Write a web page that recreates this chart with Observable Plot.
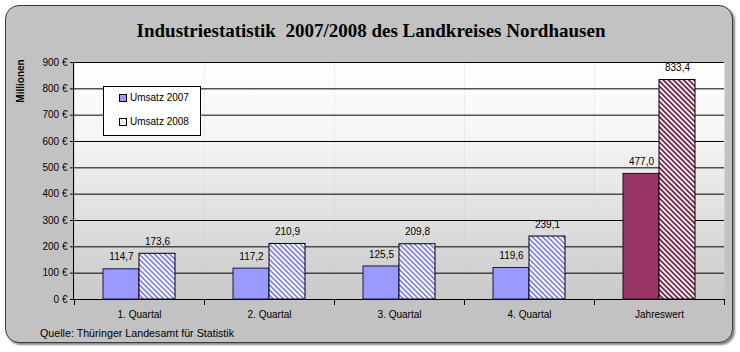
<!DOCTYPE html>
<html><head><meta charset="utf-8">
<script src="https://cdn.jsdelivr.net/npm/d3@7"></script>
<script src="https://cdn.jsdelivr.net/npm/@observablehq/plot@0.6"></script>
<style>
html,body{margin:0;padding:0;background:#fff;}
#wrap{position:relative;width:740px;height:352px;overflow:hidden;font-family:"Liberation Sans",Arial,sans-serif;}
#panel{position:absolute;left:5px;top:5px;width:726px;height:336px;border:1px solid #3a3a3a;border-radius:14px;background:#c2c2c2;box-shadow:2px 2px 2px #8a8a8a;}
#title{position:absolute;left:0;top:20px;width:742px;text-align:center;font-family:"Liberation Serif","Times New Roman",serif;font-weight:bold;font-size:19px;color:#000;}
#ylab{position:absolute;left:20px;top:81px;transform:translate(-50%,-50%) rotate(-90deg);font-weight:bold;font-size:10px;white-space:nowrap;}
#cap{position:absolute;left:40px;top:327px;font-size:10.7px;white-space:nowrap;}
#legend{position:absolute;left:103px;top:86px;width:96px;height:48px;background:#fff;border:1px solid #000;font-size:10px;}
.lrow{position:absolute;left:15px;display:flex;align-items:center;}
.lrow svg{margin-right:3px;}
#chart{position:absolute;left:0;top:0;}
</style></head>
<body>
<div id="wrap">
  <div id="panel"></div>
  <div id="title"></div>
  <div id="ylab"></div>
  <div id="chart"></div>
  <div id="legend"></div>
  <div id="cap"></div>
</div>
<script>
const titleText = "Industriestatistik\u00a0 2007/2008 des Landkreises Nordhausen";
const yLabel = "Millionen";
const caption = "Quelle: Thüringer Landesamt für Statistik";
const categories = ["1. Quartal", "2. Quartal", "3. Quartal", "4. Quartal", "Jahreswert"];
const series = ["2007", "2008"];
const seriesLabels = ["Umsatz 2007", "Umsatz 2008"];
const umsatz2007 = [114.7, 117.2, 125.5, 119.6, 477.0];
const umsatz2008 = [173.6, 210.9, 209.8, 239.1, 833.4];
const yTicks = [0, 100, 200, 300, 400, 500, 600, 700, 800, 900];

document.getElementById("title").textContent = titleText;
document.getElementById("ylab").textContent = yLabel;
document.getElementById("cap").textContent = caption;

const rows = [];
categories.forEach((c, i) => {
  rows.push({cat: c, s: "2007", v: umsatz2007[i]});
  rows.push({cat: c, s: "2008", v: umsatz2008[i]});
});
const isYear = d => d.cat === "Jahreswert";
const fmt = v => v.toFixed(1).replace(".", ",");

const plot = Plot.plot({
  width: 740, height: 352,
  marginLeft: 73, marginRight: 16, marginTop: 62, marginBottom: 53,
  style: {background: "transparent", fontFamily: "'Liberation Sans', Arial, sans-serif", fontSize: "10px", color: "#000"},
  fx: {domain: categories, padding: 0, label: null, axis: "bottom", tickSize: 0, tickPadding: 11},
  x: {domain: series, paddingInner: 0, paddingOuter: 0.76, axis: null},
  y: {domain: [0, 900], ticks: yTicks, tickFormat: d => d + " €", tickSize: 4, tickPadding: 3, label: null},
  marks: [
    Plot.frame({fill: "url(#bgGrad)", stroke: "none"}),
    Plot.gridY(yTicks, {stroke: "#000", strokeOpacity: 1}),
    Plot.frame({anchor: "left", stroke: "#000", insetTop: 237, insetBottom: -5}),
    Plot.frame({anchor: "right", stroke: "#000", insetTop: 237, insetBottom: -5}),
    Plot.barY(rows.filter(d => d.s === "2007" && !isYear(d)), {fx: "cat", x: "s", y: "v", fill: "#9999ff", stroke: "#1a1a40", strokeWidth: 1}),
    Plot.barY(rows.filter(d => d.s === "2008" && !isYear(d)), {fx: "cat", x: "s", y: "v", fill: "url(#hatchBlue)", stroke: "#000", strokeWidth: 1}),
    Plot.barY(rows.filter(d => d.s === "2007" && isYear(d)), {fx: "cat", x: "s", y: "v", fill: "#993366", stroke: "#2a0a18", strokeWidth: 1}),
    Plot.barY(rows.filter(d => d.s === "2008" && isYear(d)), {fx: "cat", x: "s", y: "v", fill: "url(#hatchRed)", stroke: "#000", strokeWidth: 1}),
    Plot.text(rows, {fx: "cat", x: "s", y: "v", text: d => fmt(d.v), dy: -12, fill: "#000", fontSize: 10})
  ]
});

const svg = d3.select(plot);
const defs = svg.insert("defs", ":first-child");
const g = defs.append("linearGradient").attr("id", "bgGrad").attr("x1", 0).attr("y1", 0).attr("x2", 0).attr("y2", 1);
g.append("stop").attr("offset", "0%").attr("stop-color", "#ffffff");
g.append("stop").attr("offset", "30%").attr("stop-color", "#f6f6f6");
g.append("stop").attr("offset", "100%").attr("stop-color", "#c9c9c9");
function hatch(id, bg, fg) {
  const p = defs.append("pattern").attr("id", id).attr("patternUnits", "userSpaceOnUse")
    .attr("width", 3.6).attr("height", 3.6).attr("patternTransform", "rotate(-45)");
  p.append("rect").attr("width", 3.6).attr("height", 3.6).attr("fill", bg);
  p.append("rect").attr("width", 1.7).attr("height", 3.6).attr("fill", fg);
}
hatch("hatchBlue", "#ffffff", "#8080e8");
hatch("hatchRed", "#fff0f6", "#6e2040");

// y axis line through the library's y scale
const ys = plot.scale("y");
svg.append("line").attr("x1", 73.5).attr("x2", 73.5)
  .attr("y1", ys.apply(900)).attr("y2", ys.apply(0)).attr("stroke", "#000");

document.getElementById("chart").appendChild(plot);

// legend
const leg = document.getElementById("legend");
const legendFills = ["#9999ff", "url(#hatchBlueL)"];
seriesLabels.forEach((lab, i) => {
  const r = document.createElement("div");
  r.className = "lrow";
  r.style.top = (i === 0 ? 5 : 29) + "px";
  r.innerHTML = `<svg width="8" height="8"><defs><pattern id="hatchBlueL" patternUnits="userSpaceOnUse" width="3" height="3" patternTransform="rotate(-45)"><rect width="3" height="3" fill="#fff"/><rect width="1" height="3" fill="#c8c8f0"/></pattern></defs><rect x="0.5" y="0.5" width="7" height="7" fill="${legendFills[i]}" stroke="#000"/></svg><span>${lab}</span>`;
  leg.appendChild(r);
});
</script>
</body></html>
